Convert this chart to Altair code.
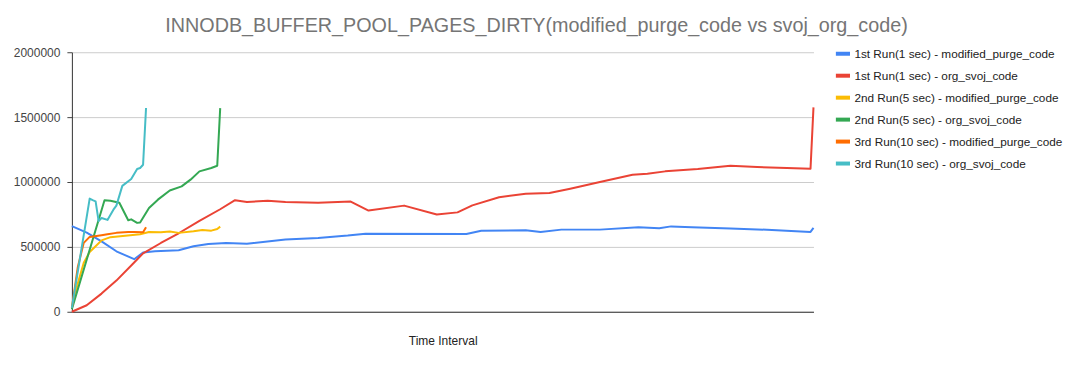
import altair as alt
import pandas as pd

series_names = [
    "1st Run(1 sec) - modified_purge_code",
    "1st Run(1 sec) - org_svoj_code",
    "2nd Run(5 sec) - modified_purge_code",
    "2nd Run(5 sec) - org_svoj_code",
    "3rd Run(10 sec) - modified_purge_code",
    "3rd Run(10 sec) - org_svoj_code",
]
series_colors = ["#4285F4", "#EA4335", "#FBBC04", "#34A853", "#FF6D01", "#46BDC6"]

run1_mod_x = [0, 5, 10, 15, 21, 24, 28, 36, 41, 46, 52, 59, 72, 83, 93, 99, 133, 138, 153, 158,
              165, 178, 191, 198, 202, 209, 222, 236, 249, 250]
run1_mod_y = [660000, 610000, 543000, 466000, 405000, 456000, 466000, 474000, 505000, 523000,
              530000, 525000, 556000, 569000, 587000, 602000, 600000, 625000, 628000, 615000,
              633000, 633000, 651000, 643000, 658000, 651000, 641000, 631000, 615000, 646000]

run1_org_x = [0, 5, 10, 15, 21, 24, 30, 36, 43, 50, 55, 59, 66, 72, 83, 94, 100, 112, 123, 130,
              135, 144, 153, 161, 168, 178, 189, 194, 200, 211, 222, 231, 241, 249, 250]
run1_org_y = [0, 50000, 140000, 240000, 380000, 450000, 530000, 605000, 700000, 790000,
              860000, 846000, 856000, 846000, 841000, 849000, 780000, 818000, 749000, 766000,
              820000, 882000, 910000, 915000, 948000, 1000000, 1056000, 1064000, 1082000, 1100000,
              1125000, 1115000, 1108000, 1102000, 1575000]

run2_mod_x = [0, 2, 4, 6, 8, 10, 13, 18, 23, 26, 30, 33, 36, 41, 44, 47, 49, 50]
run2_mod_y = [30000, 220000, 377000, 460000, 505000, 550000, 575000, 585000, 597000, 615000,
              612000, 618000, 608000, 620000, 630000, 625000, 638000, 656000]

run2_org_x = [0, 11, 13, 16, 19, 20, 22, 23, 26, 29, 33, 37, 40, 43, 47, 49, 50]
run2_org_y = [20000, 860000, 856000, 840000, 705000, 712000, 685000, 688000, 800000, 864000,
              935000, 966000, 1018000, 1082000, 1108000, 1125000, 1569000]

run3_mod_x = [0, 2, 4, 6, 10, 12, 15, 19, 21, 24, 25]
run3_mod_y = [30000, 345000, 531000, 577000, 590000, 597000, 608000, 615000, 615000, 612000, 652000]

run3_org_x = [0, 6, 7, 8, 9, 10, 12, 14, 15, 17, 20, 22, 23, 24, 25]
run3_org_y = [30000, 872000, 860000, 851000, 700000, 723000, 708000, 787000, 818000, 970000,
              1023000, 1100000, 1108000, 1133000, 1570000]

y_ticks = [0, 500000, 1000000, 1500000, 2000000]

xs = [run1_mod_x, run1_org_x, run2_mod_x, run2_org_x, run3_mod_x, run3_org_x]
ys = [run1_mod_y, run1_org_y, run2_mod_y, run2_org_y, run3_mod_y, run3_org_y]

rows = []
for i, (name, sx, sy) in enumerate(zip(series_names, xs, ys)):
    for x, y in zip(sx, sy):
        rows.append({"t": x, "v": y, "series": name, "order": i})
df = pd.DataFrame(rows)

FONT = "Liberation Sans"

chart = alt.Chart(df).mark_line(strokeWidth=2, strokeJoin="round").encode(
    x=alt.X("t:Q", scale=alt.Scale(domain=[0, 250], nice=False, zero=False),
            axis=alt.Axis(title="Time Interval", labels=False, ticks=False, grid=False,
                          domainColor="#333333", domainWidth=1, titleFont=FONT,
                          titleFontSize=12, titleFontWeight="normal", titleColor="#222222",
                          titlePadding=24)),
    y=alt.Y("v:Q", scale=alt.Scale(domain=[0, 2000000], nice=False),
            axis=alt.Axis(title=None, values=y_ticks, format="d", labelFont=FONT,
                          labelFontSize=12, labelColor="#444444", gridColor="#cccccc",
                          tickColor="#444444", tickSize=5, labelPadding=7,
                          domainColor="#333333")),
    color=alt.Color("series:N", scale=alt.Scale(domain=series_names, range=series_colors),
                    legend=alt.Legend(title=None, orient="none", legendX=763, legendY=-8,
                                      symbolType="stroke", symbolStrokeWidth=4, symbolSize=200,
                                      labelFont=FONT, labelFontSize=11.8, labelColor="#222222",
                                      labelLimit=400, rowPadding=4, labelOffset=2, padding=0)),
    order=alt.Order("order:Q"),
    detail="series:N",
).properties(
    width=743,
    height=260,
    title=alt.TitleParams(
        text="INNODB_BUFFER_POOL_PAGES_DIRTY(modified_purge_code vs svoj_org_code)",
        font=FONT, fontSize=19.8, fontWeight="normal", color="#757575",
        anchor="middle", dx=94, offset=-8, baseline="alphabetic",
    ),
    autosize=alt.AutoSizeParams(type="none"),
    padding={"left": 64, "top": 44, "right": 255, "bottom": 50},
).configure_view(stroke=None)

chart.save("out.html", embed_options={"renderer": "svg", "actions": False})
